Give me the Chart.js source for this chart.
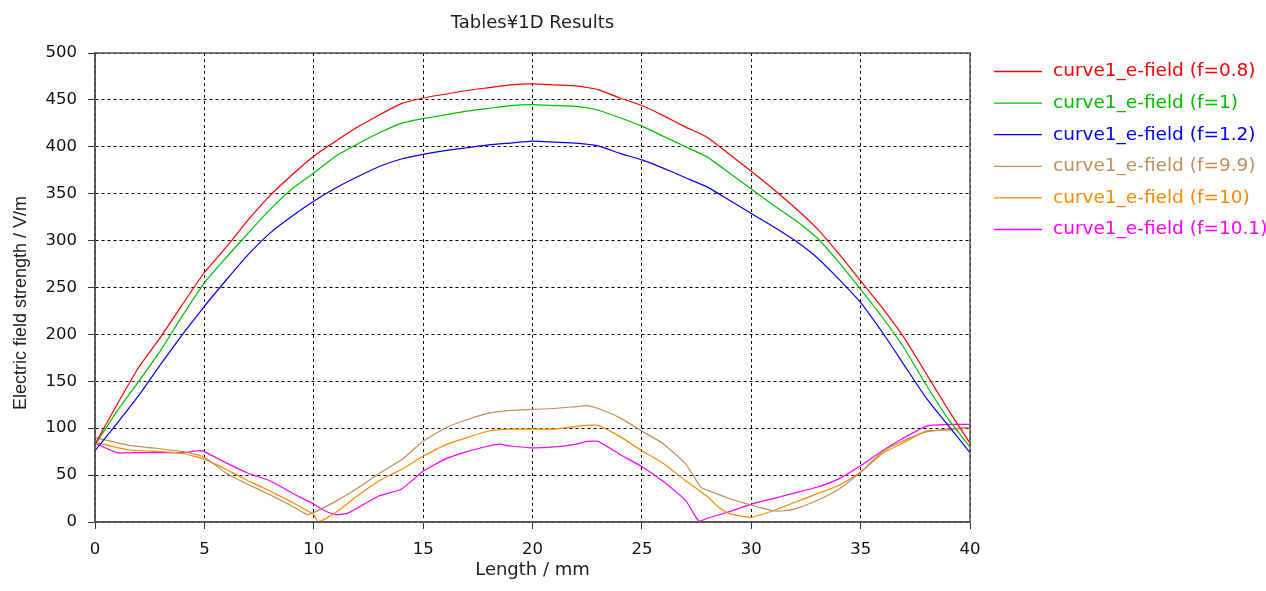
<!DOCTYPE html>
<html>
<head>
<meta charset="utf-8">
<script src="https://cdn.jsdelivr.net/npm/chart.js@4/dist/chart.umd.min.js"></script>
<style>
  html, body { margin: 0; padding: 0; background: #fff; }
  #wrap { width: 1266px; height: 591px; }
</style>
</head>
<body>
<div id="wrap"><canvas id="chart" width="1266" height="591"></canvas></div>
<script>
// x positions (mm) for the three upper curves
const xUpper = [0,1,2,3,4,5,6,7,8,9,10,11,12,13,14,15,16,17,18,19,20,21,22,23,24,25,26,27,28,29,30,31,32,33,34,35,36,37,38,39,40];
const f08 = [83,125,165,197,232,266,293,322,348,370,390,406,421,434,446,452,456,460,463,466,467,466,465,461,452,444,433,421,410,392,374,355,335,313,286,257,228,196,158,120,84];
const f1 = [82,118,150,183,220,255,282,308,333,355,372,390,403,415,425,430,434,438,441,444,445,444,443,439,431,422,411,400,389,372,355,338,322,303,277,248,218,185,146,110,80];
const f12 = [76,105,135,168,200,230,258,285,308,326,342,356,368,379,387,392,396,399,402,404,406,405,404,401,393,386,377,367,357,343,329,315,300,282,259,234,202,167,132,103,74];

// lower curves
const x99 = [0,1.5,3,4,5,6,7,8,9,9.7,10,11,12,13,14,15,16,17,18,19,20,21,22,22.5,23,24,25,26,27,27.7,28,29,30,31,31.5,32,33,34,35,36,37,38,39,40];
const f99 = [90,82,78,75,69,52,40,29,17,8,10,22,36,52,66,86,100,109,116,119,120,121,123,124,121,111,97,83,62,37,34,25,18,12,12,14,23,35,53,75,87,96,99,101];
const x10 = [0,1.5,3,4,5,6,7,8,9,10,10.2,11,12,13,14,15,16,17,18,19,20,21,22,23,24,25,26,27,28,28.5,29,30,31,32,33,34,35,36,37,38,39,40];
const f10 = [85,77,75,73,67,56,44,33,21,8,0,10,28,44,56,70,82,90,97,99,99,99,102,103,91,76,62,44,27,16,9,5,12,21,30,39,53,73,85,97,98,101];
const x101 = [0,1,2,3,4,4.8,5,6,7,8,9,10,10.5,11,11.5,12,13,14,15,16,17,18,18.5,19,20,21,22,22.5,23,24,25,26,27,27.6,28,29,30,31,32,33,34,35,36,37,38,39,40];
const f101 = [84,74,74,74,74,76,75,63,52,44,31,19,12,8,9,15,28,35,54,67,75,81,83,81,79,80,83,86,86,72,59,43,23,1,4,11,19,25,31,37,46,60,76,90,102,104,104];

const seriesNames = ['curve1_e-field (f=0.8)','curve1_e-field (f=1)','curve1_e-field (f=1.2)','curve1_e-field (f=9.9)','curve1_e-field (f=10)','curve1_e-field (f=10.1)'];
const seriesColors = ['#ff0000','#00c000','#0000ff','#c0905a','#ff8a00','#ff00ff'];
const xTicks = [0,5,10,15,20,25,30,35,40];
const yTicks = [0,50,100,150,200,250,300,350,400,450,500];

const FONT = '"DejaVu Sans", sans-serif';

function pts(xs, ys) {
    return xs.map((x, i) => ({ x: x, y: ys[i] }));
}

const allX = [xUpper, xUpper, xUpper, x99, x10, x101];
const allY = [f08, f1, f12, f99, f10, f101];

const datasets = allY.map((ys, i) => ({
    label: seriesNames[i],
    data: pts(allX[i], ys),
    borderColor: seriesColors[i],
    borderWidth: 1.2,
    pointRadius: 0,
    tension: 0.15,
    fill: false
}));

// title, legend, frame and axis titles
const decor = {
    id: 'decor',
    afterDraw(chart) {
        const ctx = chart.ctx;
        const a = chart.chartArea;
        ctx.save();
        ctx.strokeStyle = '#555';
        ctx.lineWidth = 1.5;
        ctx.strokeRect(a.left, a.top, a.right - a.left, a.bottom - a.top);

        ctx.fillStyle = '#222';
        ctx.font = '18px ' + FONT;
        ctx.textAlign = 'center';
        ctx.textBaseline = 'middle';
        ctx.fillText('Tables\u00a51D Results', (a.left + a.right) / 2, 23);
        ctx.textBaseline = 'alphabetic';
        ctx.fillText('Length / mm', (a.left + a.right) / 2, 575);
        ctx.font = '18px "Liberation Sans", Arial, sans-serif';
        ctx.textBaseline = 'middle';
        ctx.translate(21, 303);
        ctx.rotate(-Math.PI / 2);
        ctx.fillText('Electric field strength / V/m', 0, 0);
        ctx.restore();

        ctx.save();
        ctx.font = '18.5px ' + FONT;
        ctx.textAlign = 'left';
        ctx.textBaseline = 'middle';
        seriesNames.forEach((name, i) => {
            const y = 71.5 + i * 31.6;
            ctx.strokeStyle = seriesColors[i];
            ctx.lineWidth = 1.3;
            ctx.beginPath();
            ctx.moveTo(994, y);
            ctx.lineTo(1042, y);
            ctx.stroke();
            ctx.fillStyle = seriesColors[i];
            ctx.fillText(name, 1053, y);
        });
        ctx.restore();
    }
};

new Chart(document.getElementById('chart'), {
    type: 'line',
    data: { datasets: datasets },
    options: {
        responsive: false,
        animation: false,
        layout: { padding: { top: 53, right: 296, left: 0, bottom: 0 } },
        plugins: {
            legend: { display: false },
            title: { display: false },
            tooltip: { enabled: false }
        },
        scales: {
            x: {
                type: 'linear',
                min: 0,
                max: 40,
                afterBuildTicks: (s) => { s.ticks = xTicks.map(v => ({ value: v })); },
                afterFit: (s) => { s.height = 69; },
                grid: { color: '#000', lineWidth: 1, tickLength: 7, tickColor: '#333' },
                border: { display: true, color: '#555', width: 1.5, dash: [3, 3] },
                ticks: { color: '#111', font: { family: FONT, size: 16.5 }, padding: 11, maxRotation: 0 }
            },
            y: {
                type: 'linear',
                min: 0,
                max: 500,
                afterBuildTicks: (s) => { s.ticks = yTicks.map(v => ({ value: v })); },
                afterFit: (s) => { s.width = 95; },
                grid: { color: '#000', lineWidth: 1, tickLength: 7, tickColor: '#333' },
                border: { display: true, color: '#555', width: 1.5, dash: [3, 3] },
                ticks: { color: '#111', font: { family: FONT, size: 16.5 }, padding: 11 }
            }
        }
    },
    plugins: [decor]
});
</script>
</body>
</html>
